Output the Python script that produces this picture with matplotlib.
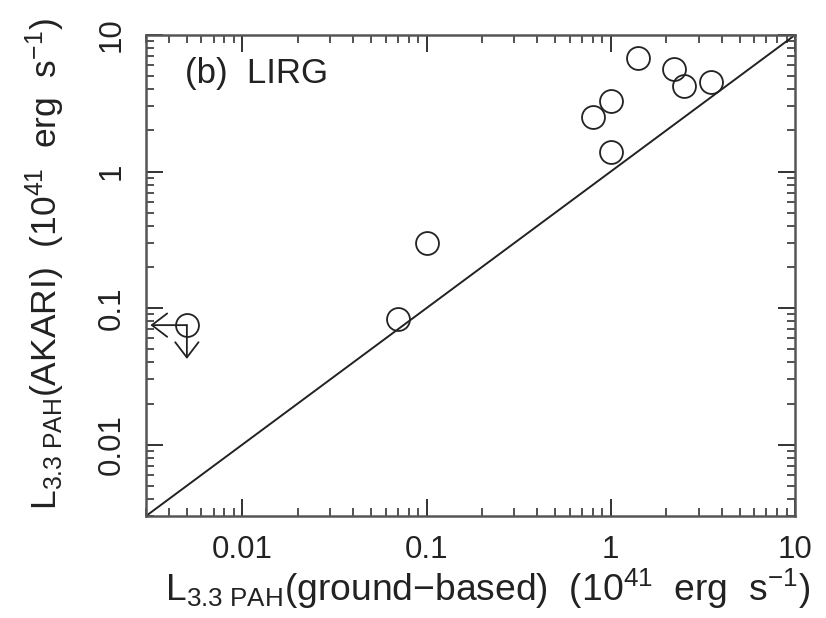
#!/usr/bin/env python3
"""L(3.3 PAH) from AKARI against ground-based values for the LIRG sample."""

import matplotlib

matplotlib.use("Agg")
import matplotlib.pyplot as plt
from matplotlib.ticker import FixedFormatter, FixedLocator, LogLocator, NullFormatter

plt.rcParams["font.family"] = ["Liberation Sans", "DejaVu Sans"]
plt.rcParams["mathtext.fontset"] = "custom"
plt.rcParams["mathtext.rm"] = "Liberation Sans"
plt.rcParams["mathtext.it"] = "Liberation Sans"
plt.rcParams["mathtext.default"] = "regular"

INK = "#222222"

# detections (10^41 erg/s)
ground_lum = [1.4, 2.2, 2.5, 3.5, 1.0, 0.8, 1.0, 0.1, 0.07]
akari_lum = [6.8, 5.6, 4.2, 4.5, 3.3, 2.5, 1.4, 0.3, 0.083]

# upper limit in both axes, arrows end where drawn
limit_x = [0.005]
limit_y = [0.075]
limit_arrow_x = [0.00317]
limit_arrow_y = [0.0424]

axis_range = [0.003, 10.0]
tick_values = [0.01, 0.1, 1, 10]
tick_labels = ["0.01", "0.1", "1", "10"]

XLABEL = r"L$_{3.3\ PAH}$(ground$-$based)  (10$^{41}$  erg  s$^{-1}$)"
YLABEL = r"L$_{3.3\ PAH}$(AKARI)  (10$^{41}$  erg  s$^{-1}$)"


def main() -> None:
    fig = plt.figure(figsize=(8.26, 6.18), dpi=100, facecolor="white")
    ax = fig.add_axes([146 / 826, 1 - 516 / 618, 649 / 826, 481 / 618])

    ax.set_xscale("log")
    ax.set_yscale("log")
    ax.set_xlim(axis_range)
    ax.set_ylim(axis_range)

    # one-to-one relation
    ax.plot(axis_range, axis_range, color=INK, linewidth=1.4, solid_capstyle="butt")

    marker_style = dict(
        linestyle="none",
        marker="o",
        markersize=16.5,
        markerfacecolor="none",
        markeredgecolor=INK,
        markeredgewidth=1.3,
    )
    ax.plot(ground_lum, akari_lum, **marker_style)
    ax.plot(limit_x, limit_y, **marker_style)

    arrow = dict(
        arrowstyle="->, head_length=0.55, head_width=0.42",
        color=INK,
        linewidth=1.3,
        shrinkA=0,
        shrinkB=0,
        mutation_scale=20,
    )
    for x0, y0, xa, ya in zip(limit_x, limit_y, limit_arrow_x, limit_arrow_y):
        ax.annotate("", xy=(xa, y0), xytext=(x0, y0), arrowprops=arrow)
        ax.annotate("", xy=(x0, ya), xytext=(x0, y0), arrowprops=arrow)

    for axis in (ax.xaxis, ax.yaxis):
        axis.set_major_locator(FixedLocator(tick_values))
        axis.set_major_formatter(FixedFormatter(tick_labels))
        axis.set_minor_locator(LogLocator(base=10, subs=range(2, 10)))
        axis.set_minor_formatter(NullFormatter())

    ax.tick_params(which="both", direction="in", top=True, right=True, color=INK, labelcolor=INK)
    ax.tick_params(which="major", length=12, width=1.3, labelsize=22.5)
    ax.tick_params(which="minor", length=6, width=1.1)
    ax.tick_params(axis="x", which="major", pad=14)
    ax.tick_params(axis="y", which="major", pad=14, labelrotation=90)
    for label in ax.get_yticklabels():
        label.set_verticalalignment("center")

    for spine in ax.spines.values():
        spine.set_linewidth(1.8)
        spine.set_color("#555555")

    ax.text(
        (185 - 146) / 649,
        (516 - 83) / 481,
        "(b)  LIRG",
        transform=ax.transAxes,
        fontsize=25,
        color=INK,
        va="baseline",
        ha="left",
    )

    fig.text(
        165 / 826,
        17 / 618,
        XLABEL,
        fontsize=26.8,
        color=INK,
        ha="left",
        va="baseline",
    )
    fig.text(
        57 / 826,
        1 - 510 / 618,
        YLABEL,
        fontsize=25.5,
        color=INK,
        ha="left",
        va="baseline",
        rotation=90,
        rotation_mode="anchor",
    )

    fig.savefig("out.png", dpi=100, facecolor="white")
    plt.close(fig)


if __name__ == "__main__":
    main()
